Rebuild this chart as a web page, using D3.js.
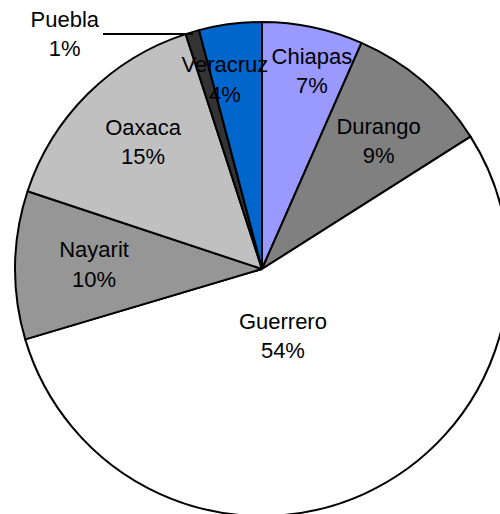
<!DOCTYPE html>
<html>
<head>
<meta charset="utf-8">
<script src="https://cdn.jsdelivr.net/npm/d3@7"></script>
<style>
  body { margin: 0; background: #fff; }
  svg { display: block; }
  text { font-family: "Liberation Sans", Arial, sans-serif; font-size: 22px; fill: #000; }
</style>
</head>
<body>
<div id="chart"></div>
<script>
// data (share of total, %)
var states = ["Chiapas", "Durango", "Guerrero", "Nayarit", "Oaxaca", "Puebla", "Veracruz"];
var shares = [6.6, 9.4, 54.4, 9.7, 14.9, 0.9, 4.1];
var colors = ["#9999ff", "#808080", "#ffffff", "#969696", "#c0c0c0", "#333333", "#0066cc"];

// label placement: radius and angle nudge (deg) from slice middle
var labelR =     [204, 173, 70, 168, 174, 307, 193];
var labelNudge = [2.3, 1.7, 7.1, 0.6, 1.7, -23.6, -3.7];

var width = 500, height = 514;
var cx = 262, cy = 269, radius = 247;

var svg = d3.select("#chart").append("svg")
    .attr("width", width)
    .attr("height", height);

var g = svg.append("g").attr("transform", "translate(" + cx + "," + cy + ")");

var pie = d3.pie().sort(null).value(function(d) { return d; });
var arcs = pie(shares);

var arc = d3.arc().innerRadius(0).outerRadius(radius);

g.selectAll("path.slice")
  .data(arcs)
  .enter().append("path")
  .attr("class", "slice")
  .attr("d", arc)
  .attr("fill", function(d, i) { return colors[i]; })
  .attr("stroke", "#000")
  .attr("stroke-width", 2)
  .attr("stroke-linejoin", "round");

function polar(r, a) { return [r * Math.sin(a), -r * Math.cos(a)]; }

// leader line for the tiny Puebla slice
var pi = states.indexOf("Puebla");
var pMid = (arcs[pi].startAngle + arcs[pi].endAngle) / 2;
var pEnd = polar(radius - 2, pMid);
g.append("line")
  .attr("x1", 103 - cx).attr("y1", 34 - cy)
  .attr("x2", pEnd[0]).attr("y2", pEnd[1])
  .attr("stroke", "#000")
  .attr("stroke-width", 2);

var labels = g.selectAll("text.lbl")
  .data(arcs)
  .enter().append("text")
  .attr("class", "lbl")
  .attr("text-anchor", "middle")
  .each(function(d, i) {
    var mid = (d.startAngle + d.endAngle) / 2 + labelNudge[i] * Math.PI / 180;
    var p = polar(labelR[i], mid);
    var t = d3.select(this);
    t.append("tspan")
      .attr("x", p[0]).attr("y", p[1] - 14.7)
      .attr("dominant-baseline", "central")
      .text(states[i]);
    t.append("tspan")
      .attr("x", p[0]).attr("y", p[1] + 14.7)
      .attr("dominant-baseline", "central")
      .text(Math.round(shares[i]) + "%");
  });
</script>
</body>
</html>
